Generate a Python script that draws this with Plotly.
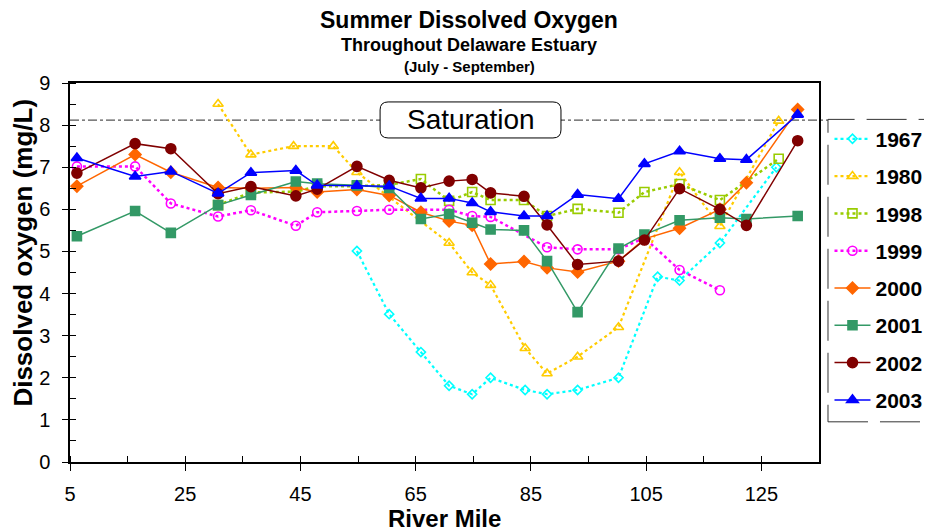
import plotly.graph_objects as go

# ---------------- data ----------------
stations = [6.2, 16.3, 22.5, 30.7, 36.4, 44.2, 47.9, 54.8, 60.4, 65.9, 70.8,
            74.8, 78.0, 83.8, 87.8, 93.1, 100.2, 104.7, 110.8, 117.8, 122.4, 131.3]

do_2003 = [7.22, 6.78, 6.90, 6.38, 6.87, 6.92, 6.57, 6.56, 6.55, 6.26, 6.26,
           6.15, 5.94, 5.84, 5.84, 6.35, 6.25, 7.08, 7.38, 7.20, 7.18, 8.25]
do_2002 = [6.86, 7.56, 7.44, 6.37, 6.54, 6.32, 6.48, 7.02, 6.69, 6.51, 6.67,
           6.71, 6.39, 6.31, 5.63, 4.69, 4.77, 5.27, 6.49, 6.00, 5.62, 7.63]
do_2000 = [6.55, 7.30, 6.88, 6.52, 6.50, 6.52, 6.41, 6.47, 6.33, 5.93, 5.72,
           5.62, 4.70, 4.76, 4.61, 4.51, 4.77, 5.30, 5.55, 6.00, 6.63, 8.37]
do_2001 = [5.36, 5.96, 5.44, 6.10, 6.34, 6.66, 6.61, 6.57, 6.51, 5.77, 5.89,
           5.68, 5.52, 5.50, 4.77, 3.56, 5.07, 5.40, 5.74, 5.80, 5.77, 5.84]

rm_1999 = [6.2, 16.3, 22.5, 30.7, 36.4, 44.2, 47.9, 54.8, 60.4, 70.8, 74.8,
           78.0, 87.8, 93.1, 100.2, 104.7, 110.8, 117.8]
do_1999 = [7.02, 7.02, 6.14, 5.83, 5.98, 5.61, 5.93, 5.96, 5.99, 5.99, 5.84,
           5.82, 5.10, 5.05, 5.05, 5.32, 4.56, 4.08]

rm_1998 = [30.7, 36.4, 44.2, 47.9, 54.8, 60.4, 65.9, 70.8, 74.8, 78.0, 83.8,
           87.8, 93.1, 100.2, 104.7, 110.8, 117.8, 128.0]
do_1998 = [6.10, 6.40, 6.42, 6.55, 6.55, 6.58, 6.72, 6.20, 6.41, 6.22, 6.22,
           5.84, 6.01, 5.92, 6.41, 6.60, 6.22, 7.20]

rm_1980 = [30.7, 36.4, 43.8, 50.7, 54.8, 70.8, 74.8, 78.0, 84.0, 87.8, 93.1,
           100.2, 110.8, 117.8, 128.0]
do_1980 = [8.50, 7.30, 7.50, 7.50, 6.88, 5.20, 4.50, 4.20, 2.70, 2.10, 2.50,
           3.20, 6.88, 5.60, 8.10]

rm_1967 = [54.8, 60.4, 65.9, 70.8, 74.8, 78.0, 84.0, 87.8, 93.1, 100.2, 107.0,
           110.8, 117.8, 127.6]
do_1967 = [5.01, 3.51, 2.61, 1.81, 1.61, 2.00, 1.71, 1.61, 1.71, 2.00, 4.40,
           4.31, 5.20, 7.00]

saturation = 8.12
x_ticks = [5, 25, 45, 65, 85, 105, 125]
y_ticks = list(range(0, 10))

FONT = "Arial, Liberation Sans, sans-serif"

series = [
    ("1967", rm_1967, do_1967, "#00FFFF", "dot", 2.2, "diamond-open", 7),
    ("1980", rm_1980, do_1980, "#FFCC00", "dot", 2.2, "triangle-up-open", 9),
    ("1998", rm_1998, do_1998, "#99CC00", "dot", 2.5, "square-open", 9),
    ("1999", rm_1999, do_1999, "#FF00FF", "dot", 2.5, "circle-open", 9),
    ("2000", stations, do_2000, "#FF6600", "solid", 1.5, "diamond", 9),
    ("2001", stations, do_2001, "#339966", "solid", 1.5, "square", 9),
    ("2002", stations, do_2002, "#800000", "solid", 1.5, "circle", 10),
    ("2003", stations, do_2003, "#0000FF", "solid", 1.5, "triangle-up", 10),
]

fig = go.Figure()
for name, xs, ys, col, dash, lw, sym, ms in series:
    fig.add_trace(go.Scatter(
        x=xs, y=ys, name=name, mode="lines+markers", legendgroup=name,
        line=dict(color=col, dash=dash, width=lw),
        marker=dict(symbol=sym, size=ms, color=col,
                    line=dict(color=col, width=1.6)),
    ))

# saturation reference line
fig.add_shape(type="line", xref="paper", yref="y", x0=0, x1=1.012,
              y0=saturation, y1=saturation, layer="below",
              line=dict(color="#555555", width=1.3, dash="dashdot"))

# rounded box for the "Saturation" label
x0, x1, y0, y1 = 0.414, 0.6555, 0.855, 0.950
rx, ry = 0.0107, 0.0211
path = (f"M {x0+rx},{y0} L {x1-rx},{y0} Q {x1},{y0} {x1},{y0+ry} "
        f"L {x1},{y1-ry} Q {x1},{y1} {x1-rx},{y1} L {x0+rx},{y1} "
        f"Q {x0},{y1} {x0},{y1-ry} L {x0},{y0+ry} Q {x0},{y0} {x0+rx},{y0} Z")
fig.add_shape(type="path", xref="paper", yref="paper", path=path,
              fillcolor="white", line=dict(color="black", width=1), layer="above")


def note(text, x, y, size, angle=0):
    fig.add_annotation(xref="paper", yref="paper", x=x, y=y, text=text,
                       showarrow=False, xanchor="center", yanchor="middle",
                       textangle=angle,
                       font=dict(family=FONT, size=size, color="black"))


note("Saturation", (x0 + x1) / 2, (y0 + y1) / 2, 28)

# dashed legend frame
fig.add_shape(type="rect", xref="paper", yref="paper",
              x0=1.012, x1=1.175, y0=0.106, y1=0.904,
              line=dict(color="#333333", width=1, dash="40px,12px"),
              fillcolor="rgba(0,0,0,0)")

# titles
note("<b>Summer Dissolved Oxygen</b>", 0.533, 1.166, 23)
note("<b>Throughout Delaware Estuary</b>", 0.533, 1.100, 18)
note("<b>(July - September)</b>", 0.533, 1.043, 15)
note("<b>Dissolved oxygen (mg/L)</b>", -0.063, 0.552, 26, angle=-90)
note("<b>River Mile</b>", 0.5, -0.15, 24)

fig.update_xaxes(range=[5, 135], tickvals=x_ticks, ticktext=[str(v) for v in x_ticks],
                 ticks="outside", ticklen=7, tickwidth=1, tickcolor="black",
                 showline=True, linecolor="black", linewidth=1.5, mirror=True,
                 showgrid=False, zeroline=False, ticklabelstandoff=6,
                 tickfont=dict(family=FONT, size=20, color="black"),
                 minor=dict(tickmode="linear", tick0=5, dtick=10, ticks="inside",
                            ticklen=6, tickcolor="black", showgrid=False))
fig.update_yaxes(range=[0, 9], tickvals=y_ticks,
                 ticks="outside", ticklen=6, tickwidth=1, tickcolor="black",
                 showline=True, linecolor="black", linewidth=1.5, mirror=True,
                 showgrid=False, zeroline=False, ticklabelstandoff=8,
                 tickfont=dict(family=FONT, size=20, color="black"),
                 minor=dict(tickmode="linear", tick0=0, dtick=0.5, ticks="inside",
                            ticklen=6, tickcolor="black", showgrid=False))

fig.update_layout(
    width=932, height=531,
    margin=dict(l=62, r=121, t=75, b=77, autoexpand=False),
    paper_bgcolor="white", plot_bgcolor="white",
    showlegend=True,
    legend=dict(x=1.014, y=0.906, xanchor="left", yanchor="top",
                font=dict(family=FONT, size=21, color="black", weight="bold"),
                bgcolor="rgba(0,0,0,0)", borderwidth=0,
                tracegroupgap=7, itemwidth=36),
)

fig.write_html("out.html")
